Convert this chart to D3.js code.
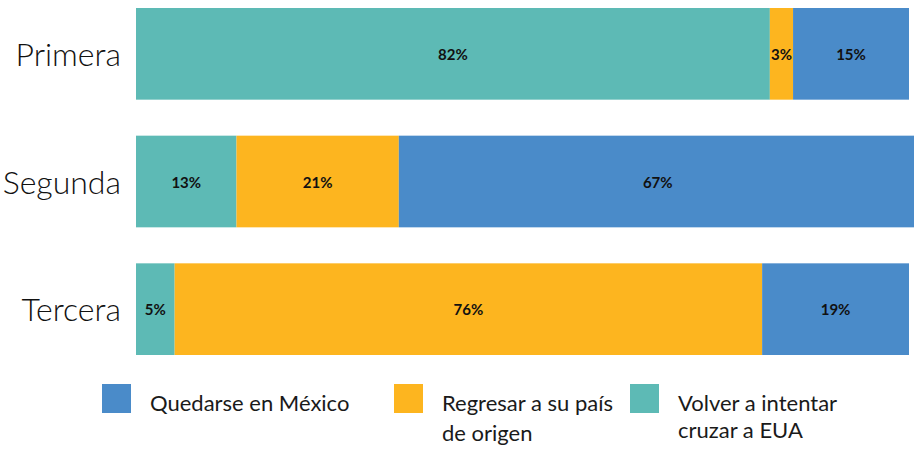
<!DOCTYPE html>
<html>
<head>
<meta charset="utf-8">
<script src="https://cdn.jsdelivr.net/npm/d3@7"></script>
<style>
  body { margin: 0; background: #fff; }
  svg { display: block; font-family: Lato, "Open Sans", sans-serif; }
</style>
</head>
<body>
<svg id="chart"></svg>
<script>
// intentos de cruce
const categories = ["Primera", "Segunda", "Tercera"];
const volver = [82, 13, 5];     // Volver a intentar cruzar a EUA
const regresar = [3, 21, 76];   // Regresar a su país de origen
const quedarse = [15, 67, 19];  // Quedarse en México

const seriesKeys = ["volver", "regresar", "quedarse"];
const colors = { volver: "#5dbab5", regresar: "#fdb51f", quedarse: "#4a8bc9" };

const legendItems = [
  { key: "quedarse", lines: ["Quedarse en México"], x: 102, lh: 0 },
  { key: "regresar", lines: ["Regresar a su país", "de origen"], x: 394, lh: 30 },
  { key: "volver", lines: ["Volver a intentar", "cruzar a EUA"], x: 630, lh: 27 }
];

const w = 914, h = 455;
const svg = d3.select("#chart").attr("width", w).attr("height", h);

const rows = categories.map((c, i) => ({
  cat: c, volver: volver[i], regresar: regresar[i], quedarse: quedarse[i]
}));
const stacked = d3.stack().keys(seriesKeys)(rows);

const x = d3.scaleLinear().domain([0, 100]).range([136, 909]);
const y = d3.scaleBand().domain(categories).range([-10, 373])
  .paddingInner(0.282).paddingOuter(0.141);

// category labels
svg.append("g").selectAll("text")
  .data(categories)
  .join("text")
  .attr("x", 121)
  .attr("y", d => y(d) + y.bandwidth() / 2 + 1)
  .attr("dy", "0.35em")
  .attr("text-anchor", "end")
  .attr("font-size", 32)
  .attr("font-weight", 300)
  .attr("fill", "#111")
  .text(d => d);

// stacked bars
const layer = svg.append("g").selectAll("g")
  .data(stacked)
  .join("g")
  .attr("fill", d => colors[d.key]);

layer.selectAll("rect")
  .data(d => d)
  .join("rect")
  .attr("x", d => x(d[0]))
  .attr("y", d => y(d.data.cat))
  .attr("width", d => x(d[1]) - x(d[0]))
  .attr("height", y.bandwidth());

// value labels
layer.selectAll("text")
  .data(d => d)
  .join("text")
  .attr("x", d => (x(d[0]) + x(d[1])) / 2)
  .attr("y", d => y(d.data.cat) + y.bandwidth() / 2 + 1)
  .attr("dy", "0.35em")
  .attr("text-anchor", "middle")
  .attr("font-size", 15)
  .attr("font-weight", "bold")
  .attr("fill", "#111")
  .text(d => (d[1] - d[0]) + "%");

// legend
const lg = svg.append("g").selectAll("g")
  .data(legendItems)
  .join("g")
  .attr("transform", d => `translate(${d.x},384)`);

lg.append("rect")
  .attr("width", 29)
  .attr("height", 29)
  .attr("fill", d => colors[d.key]);

lg.append("text")
  .attr("font-size", 22)
  .attr("fill", "#1a1a1a")
  .selectAll("tspan")
  .data(d => d.lines.map((t, i) => ({ t, i, lh: d.lh })))
  .join("tspan")
  .attr("x", 48)
  .attr("y", d => 27 + d.i * d.lh)
  .text(d => d.t);
</script>
</body>
</html>
